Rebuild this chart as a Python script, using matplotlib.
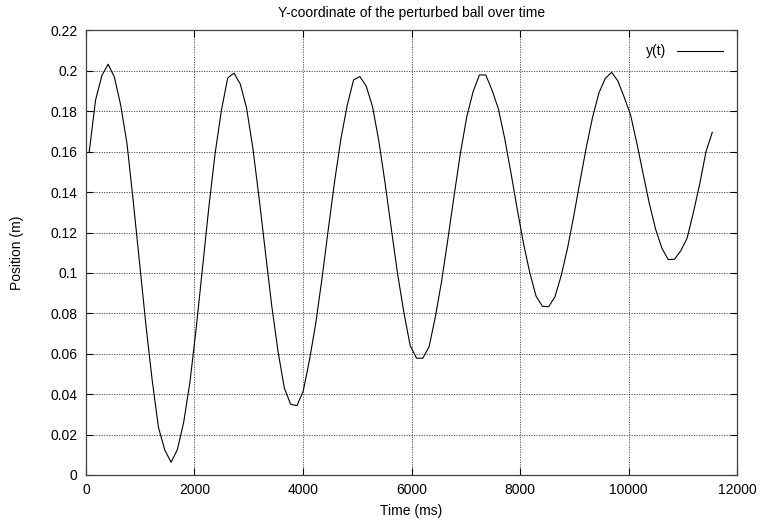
import matplotlib
matplotlib.use("Agg")
import matplotlib.pyplot as plt

plt.rcParams['font.family'] = ['Liberation Sans', 'DejaVu Sans']

# sample times (ms) and y position (m)
time_ms = [60, 176, 292, 408, 524, 640, 756, 872, 988, 1104,
           1220, 1336, 1452, 1568, 1684, 1800, 1916, 2032, 2148, 2264,
           2380, 2496, 2612, 2728, 2844, 2960, 3076, 3192, 3308, 3424,
           3540, 3656, 3772, 3888, 4004, 4120, 4236, 4352, 4468, 4584,
           4700, 4816, 4932, 5048, 5164, 5280, 5396, 5512, 5628, 5744,
           5860, 5976, 6092, 6208, 6324, 6440, 6556, 6672, 6788, 6904,
           7020, 7136, 7252, 7368, 7484, 7600, 7716, 7832, 7948, 8064,
           8180, 8296, 8412, 8528, 8644, 8760, 8876, 8992, 9108, 9224,
           9340, 9456, 9572, 9688, 9804, 9920, 10036, 10152, 10268, 10384,
           10500, 10616, 10732, 10848, 10964, 11080, 11196, 11312, 11428, 11544]

y_pos = [0.160, 0.1855, 0.1977, 0.2033, 0.1969, 0.183, 0.164, 0.1352, 0.1048, 0.0744,
         0.0469, 0.0235, 0.0124, 0.0063, 0.0125, 0.026, 0.046, 0.0728, 0.1026, 0.1324,
         0.1592, 0.1805, 0.1965, 0.1989, 0.1935, 0.1816, 0.1617, 0.1368, 0.1100, 0.0837,
         0.0611, 0.0430, 0.0350, 0.0343, 0.0415, 0.0570, 0.0752, 0.0977, 0.1220, 0.1456,
         0.1666, 0.1831, 0.1955, 0.1972, 0.1925, 0.1825, 0.1656, 0.1446, 0.1218, 0.0995,
         0.0803, 0.0640, 0.0578, 0.0578, 0.0635, 0.0783, 0.0961, 0.1170, 0.1388, 0.1597,
         0.1775, 0.1898, 0.1980, 0.1980, 0.1905, 0.1813, 0.1668, 0.1497, 0.1317, 0.1146,
         0.1001, 0.0885, 0.0835, 0.0833, 0.0882, 0.0988, 0.1123, 0.1284, 0.1457, 0.1625,
         0.1774, 0.1892, 0.1963, 0.1993, 0.1950, 0.1870, 0.1784, 0.1644, 0.1492, 0.1343,
         0.1216, 0.1122, 0.1066, 0.1068, 0.1110, 0.1172, 0.1300, 0.1440, 0.1600, 0.1696]

x_ticks = [0, 2000, 4000, 6000, 8000, 10000, 12000]
y_ticks = [0, 0.02, 0.04, 0.06, 0.08, 0.1, 0.12, 0.14, 0.16, 0.18, 0.2, 0.22]
y_tick_labels = ['0', '0.02', '0.04', '0.06', '0.08', '0.1', '0.12', '0.14',
                 '0.16', '0.18', '0.2', '0.22']

fig = plt.figure(figsize=(7.61, 5.23), dpi=100)
ax = fig.add_axes([0.113, 0.0918, 0.8555, 0.8499])

ax.plot(time_ms, y_pos, color='black', lw=0.8, label='y(t)')

ax.set_xlim(0, 12000)
ax.set_ylim(0, 0.22)
ax.set_xticks(x_ticks)
ax.set_xticklabels([str(v) for v in x_ticks])
ax.set_yticks(y_ticks)
ax.set_yticklabels(y_tick_labels)
ax.tick_params(direction='in', top=True, right=True, length=5, width=0.8,
               labelsize=10, pad=6)
ax.grid(True, color='0.25', linestyle=(0, (1.5, 1.5)), lw=0.6)
for s in ax.spines.values():
    s.set_linewidth(0.9)
    s.set_color('0.25')

ax.set_title('Y-coordinate of the perturbed ball over time', fontsize=10, pad=10)
ax.set_xlabel('Time (ms)', fontsize=10, labelpad=5)
ax.set_ylabel('Position (m)', fontsize=10, labelpad=19)

ax.legend(loc='upper right', frameon=False, markerfirst=False, fontsize=10,
          handlelength=3.3, borderaxespad=0.6)

fig.savefig('out.png', dpi=100)
